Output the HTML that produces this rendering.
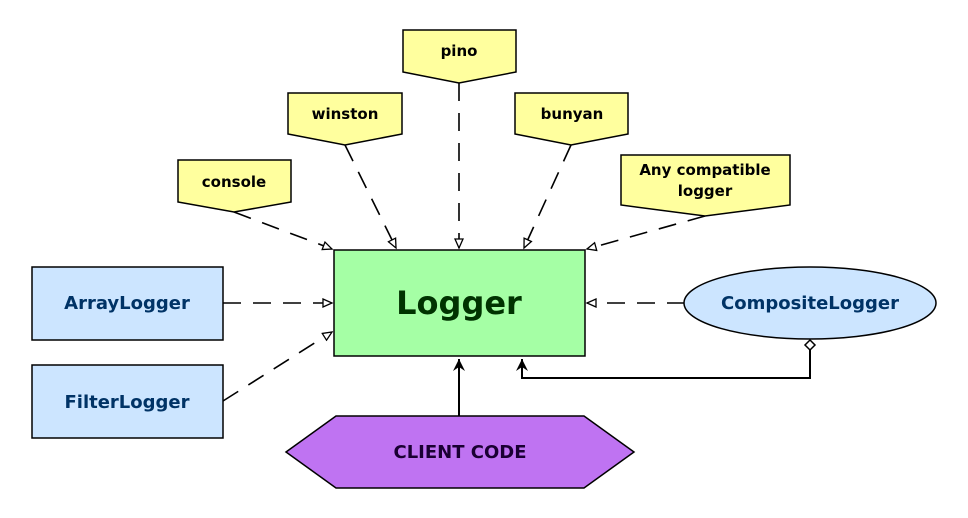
<!DOCTYPE html>
<html><head><meta charset="utf-8"><style>html,body{margin:0;padding:0;background:#fff}svg{display:block}</style></head>
<body>
<svg width="968" height="518" viewBox="0 0 968 518" xmlns="http://www.w3.org/2000/svg" font-family="'DejaVu Sans','Liberation Sans',sans-serif" font-weight="bold">
<defs>
<marker id="tri" markerWidth="12" markerHeight="10" refX="10" refY="5" orient="auto" markerUnits="userSpaceOnUse"><path d="M1,1 L10,5 L1,9 Z" fill="#fff" stroke="#000" stroke-width="1.3"/></marker>
<marker id="fill" markerWidth="14" markerHeight="12" refX="12" refY="6" orient="auto" markerUnits="userSpaceOnUse"><path d="M0,0 L12,6 L0,12 L4,6 Z" fill="#000"/></marker>
</defs>
<g stroke="#000" stroke-width="1.6" fill="none" stroke-dasharray="18,12">
<line x1="234" y1="212" x2="332" y2="249" marker-end="url(#tri)"/>
<line x1="345" y1="145" x2="396" y2="248" marker-end="url(#tri)"/>
<line x1="459" y1="83" x2="459" y2="248" marker-end="url(#tri)"/>
<line x1="571" y1="145" x2="524" y2="248" marker-end="url(#tri)"/>
<line x1="705" y1="216" x2="587" y2="249" marker-end="url(#tri)"/>
<line x1="223" y1="303" x2="332" y2="303" marker-end="url(#tri)"/>
<line x1="223" y1="401" x2="332" y2="332" marker-end="url(#tri)"/>
<line x1="685" y1="303" x2="587" y2="303" marker-end="url(#tri)"/>
</g>
<g stroke="#000" stroke-width="2" fill="none">
<line x1="459" y1="416" x2="459" y2="359" marker-end="url(#fill)"/>
<polyline points="810,350 810,378 522,378 522,359" marker-end="url(#fill)"/>
</g>
<path d="M810,340 L815,345 L810,350 L805,345 Z" fill="#fff" stroke="#000" stroke-width="1.5"/>
<g stroke="#000" stroke-width="1.5" fill="#ffff9e">
<path d="M178,160 H291 V202 L234,212 L178,202 Z"/>
<path d="M288,93 H402 V134 L345,145 L288,134 Z"/>
<path d="M403,30 H516 V72 L459,83 L403,72 Z"/>
<path d="M515,93 H628 V134 L571,145 L515,134 Z"/>
<path d="M621,155 H790 V205 L705,216 L621,205 Z"/>
</g>
<g font-size="15" text-anchor="middle" fill="#000">
<text x="234" y="187">console</text>
<text x="345" y="119">winston</text>
<text x="459" y="56">pino</text>
<text x="572" y="119">bunyan</text>
<text x="705" y="175">Any compatible</text>
<text x="705" y="196">logger</text>
</g>
<rect x="334" y="250" width="251" height="106" fill="#a5ffa5" stroke="#000" stroke-width="1.5"/>
<text x="459" y="314" font-size="32" text-anchor="middle" fill="#003300">Logger</text>
<rect x="32" y="267" width="191" height="73" fill="#cce5ff" stroke="#000" stroke-width="1.5"/>
<rect x="32" y="365" width="191" height="73" fill="#cce5ff" stroke="#000" stroke-width="1.5"/>
<ellipse cx="810" cy="303" rx="126" ry="36" fill="#cce5ff" stroke="#000" stroke-width="1.5"/>
<g font-size="18" text-anchor="middle" fill="#003366">
<text x="127" y="309">ArrayLogger</text>
<text x="127" y="408">FilterLogger</text>
<text x="810" y="309">CompositeLogger</text>
</g>
<polygon points="286,452 336,416 584,416 634,452 584,488 336,488" fill="#bf73f2" stroke="#000" stroke-width="1.5"/>
<text x="460" y="458" font-size="18" text-anchor="middle" fill="#1a0033">CLIENT CODE</text>
</svg>
</body></html>
